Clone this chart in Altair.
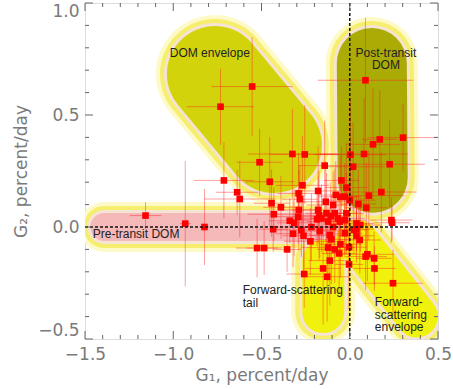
import altair as alt
import pandas as pd

# ---------------- data ----------------
g1 = [-1.157, -0.932, -0.823, -0.553, -0.732, -0.511, -0.713, -0.638, -0.623, -0.525,
      -0.485, -0.453, -0.443, -0.430, -0.434, -0.390, -0.355, -0.325, -0.255, -0.142,
      -0.268, -0.290, -0.283, -0.179, -0.136, -0.047, -0.019, 0.004, 0.019, 0.000,
      -0.079, -0.053, -0.028, 0.089, 0.170, 0.132, 0.302, 0.081, 0.226, 0.108,
      0.179, 0.049, 0.094, 0.236, 0.240, 0.038, 0.023, 0.038, 0.057, 0.100,
      0.090, 0.138, 0.140, 0.245, -0.004, -0.004, -0.053, -0.060, -0.113, -0.151,
      -0.128, -0.258, -0.123, -0.085, -0.104, -0.113, -0.223, -0.262, -0.321, -0.274,
      -0.217, -0.340, -0.315, -0.292, -0.289, -0.179, -0.174, -0.185, -0.160, -0.132,
      -0.108, -0.085, -0.066, -0.057, -0.123, -0.094, -0.028, -0.094, -0.019, -0.170,
      -0.028, 0.038, 0.060]
g2 = [0.051, 0.015, 0.000, 0.627, 0.537, 0.289, 0.208, 0.155, 0.125, -0.094,
      -0.094, 0.202, 0.106, 0.057, -0.010, 0.088, -0.100, 0.326, 0.324, 0.274,
      0.186, 0.150, 0.124, 0.161, 0.113, 0.208, 0.176, 0.323, 0.269, 0.120,
      0.143, 0.135, 0.135, 0.655, 0.391, 0.369, 0.399, 0.326, 0.280, 0.140,
      0.156, 0.103, 0.086, 0.031, 0.019, 0.016, -0.013, -0.039, -0.058, -0.122,
      -0.132, -0.140, -0.185, -0.251, -0.090, -0.167, -0.077, -0.118, -0.150, -0.185,
      -0.222, -0.210, -0.092, -0.100, -0.055, -0.036, -0.064, -0.039, -0.030, -0.013,
      0.000, 0.028, 0.019, 0.046, 0.076, 0.076, 0.051, 0.034, 0.039, 0.061,
      0.049, 0.061, 0.039, 0.024, 0.024, 0.000, 0.031, 0.098, 0.061, -0.018,
      -0.028, -0.010, 0.009]
g1_err = [0.09, 0.03, 0.03, 0.23, 0.19, 0.13, 0.17, 0.12, 0.20, 0.12,
          0.10, 0.14, 0.10, 0.15, 0.08, 0.10, 0.08, 0.25, 0.20, 0.15,
          0.15, 0.12, 0.10, 0.12, 0.15, 0.10, 0.12, 0.20, 0.18, 0.15,
          0.10, 0.12, 0.08, 0.27, 0.10, 0.15, 0.20, 0.25, 0.20, 0.20,
          0.20, 0.10, 0.12, 0.12, 0.10, 0.10, 0.08, 0.10, 0.12, 0.15,
          0.12, 0.10, 0.12, 0.17, 0.10, 0.08, 0.12, 0.10, 0.12, 0.10,
          0.12, 0.10, 0.15, 0.10, 0.15, 0.12, 0.15, 0.12, 0.10, 0.15,
          0.20, 0.12, 0.10, 0.15, 0.12, 0.15, 0.12, 0.10, 0.15, 0.12,
          0.10, 0.12, 0.15, 0.10, 0.12, 0.10, 0.12, 0.15, 0.10, 0.12,
          0.10, 0.10, 0.12]
g2_err = [0.06, 0.28, 0.17, 0.22, 0.17, 0.15, 0.17, 0.10, 0.17, 0.13,
          0.12, 0.20, 0.15, 0.12, 0.10, 0.14, 0.10, 0.20, 0.22, 0.20,
          0.22, 0.18, 0.15, 0.20, 0.18, 0.15, 0.20, 0.25, 0.20, 0.25,
          0.15, 0.18, 0.15, 0.28, 0.22, 0.25, 0.15, 0.25, 0.20, 0.20,
          0.18, 0.15, 0.20, 0.10, 0.08, 0.12, 0.10, 0.12, 0.15, 0.12,
          0.15, 0.12, 0.10, 0.15, 0.15, 0.20, 0.15, 0.18, 0.20, 0.25,
          0.20, 0.15, 0.15, 0.15, 0.20, 0.12, 0.15, 0.18, 0.15, 0.12,
          0.15, 0.10, 0.15, 0.12, 0.18, 0.15, 0.20, 0.12, 0.15, 0.18,
          0.15, 0.20, 0.12, 0.15, 0.10, 0.12, 0.15, 0.15, 0.18, 0.12,
          0.10, 0.10, 0.12]

# Regions (capsules): end-point centres in data units
region_names = ["Pre-transit DOM", "Forward-scattering tail", "Forward-scattering envelope",
                "DOM envelope", "Post-transit DOM"]
region_x1 = [-1.39, -0.15, 0.04, -0.764, 0.125]
region_y1 = [0.0, -0.15, -0.06, 0.683, 0.732]
region_x2 = [-0.20, -0.15, 0.38, -0.43, 0.13]
region_y2 = [0.0, -0.38, -0.40, 0.366, 0.22]

x_tick_labels = [-1.5, -1.0, -0.5, 0.0, 0.5]
y_tick_labels = [-0.5, 0.0, 0.5, 1.0]
x_minor = [-1.4, -1.3, -1.2, -1.1, -0.9, -0.8, -0.7, -0.6, -0.4, -0.3, -0.2, -0.1,
           0.1, 0.2, 0.3, 0.4]
y_minor = [-0.4, -0.3, -0.2, -0.1, 0.1, 0.2, 0.3, 0.4, 0.6, 0.7, 0.8, 0.9]

# ---------------- styles ----------------
W, H = 353, 336
XD, YD = [-1.5, 0.5], [-0.5, 1.0]
region_radius_px = [14, 21, 21, 48, 35]
region_fill = ["#f5b9b9", "#f1f10e", "#f1f10e", "#d3d30b", "#abab06"]
GRAY = "#7a7a7a"

xs = alt.Scale(domain=XD, nice=False, zero=False)
ys = alt.Scale(domain=YD, nice=False, zero=False)

x_axis = alt.Axis(values=x_tick_labels, format=".1f", labelFontSize=17, labelColor=GRAY,
                  labelFont="DejaVu Sans", ticks=False, tickSize=0, domain=False, grid=False,
                  labelPadding=7, labelFlush=False, labelOverlap=False, labelBound=False,
                  title="G₁, percent/day", titleFontSize=17, titleColor=GRAY,
                  titleFont="DejaVu Sans", titleFontWeight="normal", titlePadding=5)
y_axis = alt.Axis(values=y_tick_labels, format=".1f", labelFontSize=17, labelColor=GRAY,
                  labelFont="DejaVu Sans", ticks=False, tickSize=0, domain=False, grid=False,
                  labelPadding=6, labelFlush=True, labelOverlap=False, labelBound=False,
                  title="G₂, percent/day", titleFontSize=17, titleColor=GRAY,
                  titleFont="DejaVu Sans", titleFontWeight="normal", titlePadding=7)

pts = pd.DataFrame({"g1": g1, "g2": g2, "ex": g1_err, "ey": g2_err})
pts["x_lo"] = pts.g1 - pts.ex
pts["x_hi"] = pts.g1 + pts.ex
pts["y_lo"] = pts.g2 - pts.ey
pts["y_hi"] = pts.g2 + pts.ey

rows = []
for n, a, b, c, d in zip(region_names, region_x1, region_y1, region_x2, region_y2):
    rows.append({"name": n, "x": a, "y": b})
    rows.append({"name": n, "x": c, "y": d})
caps = pd.DataFrame(rows)
one = pd.DataFrame({"k": [0]})

layers = []
base_cap = alt.Chart(caps)
levels = [(22, None, "#fdfac8"), (14, None, "#f6ee6c"), (6, None, "#f5e3d3"), (0, "fill", None)]
for extra, kind, col in levels:
    for i, n in enumerate(region_names):
        color = region_fill[i] if kind == "fill" else col
        layers.append(
            base_cap.transform_filter(alt.datum.name == n)
            .mark_line(strokeCap="round", strokeWidth=2 * region_radius_px[i] + extra,
                       color=color, clip=True)
            .encode(x=alt.X("x:Q", scale=xs, axis=x_axis), y=alt.Y("y:Q", scale=ys, axis=y_axis))
        )

base = alt.Chart(pts)
err_style = dict(color="#ff1a1a", opacity=0.42, strokeWidth=1, clip=True)
layers.append(base.mark_rule(**err_style).encode(x="x_lo:Q", x2="x_hi:Q", y="g2:Q"))
layers.append(base.mark_rule(**err_style).encode(x="g1:Q", y="y_lo:Q", y2="y_hi:Q"))
layers.append(base.mark_square(size=44, color="#ff0000", opacity=1).encode(x="g1:Q", y="g2:Q"))

dash = dict(color="#111", strokeWidth=1.5, strokeDash=[3, 2])
layers.append(alt.Chart(one).mark_rule(**dash).encode(x=alt.datum(0.0)))
layers.append(alt.Chart(one).mark_rule(**dash).encode(y=alt.datum(0.0)))

# frame ticks (inward) via scales
MX, mx = 8 / H * (YD[1] - YD[0]), 4 / H * (YD[1] - YD[0])
MY, my = 8 / W * (XD[1] - XD[0]), 4 / W * (XD[1] - XD[0])
xt = []
for v in x_tick_labels + x_minor:
    L = MX if v in x_tick_labels else mx
    xt.append({"v": v, "a": YD[0], "b": YD[0] + L})
    xt.append({"v": v, "a": YD[1], "b": YD[1] - L})
yt = []
for v in y_tick_labels + y_minor:
    L = MY if v in y_tick_labels else my
    yt.append({"v": v, "a": XD[0], "b": XD[0] + L})
    yt.append({"v": v, "a": XD[1], "b": XD[1] - L})
tick_style = dict(color="#666", strokeWidth=1)
layers.append(alt.Chart(pd.DataFrame(xt)).mark_rule(**tick_style).encode(x="v:Q", y="a:Q", y2="b:Q"))
layers.append(alt.Chart(pd.DataFrame(yt)).mark_rule(**tick_style).encode(y="v:Q", x="a:Q", x2="b:Q"))

txt = dict(fontSize=12, font="Liberation Sans", color="#222222", lineHeight=12.5)
layers.append(alt.Chart(one).mark_text(text="DOM envelope", align="center", baseline="middle", **txt)
              .encode(x=alt.datum(-0.793), y=alt.datum(0.777)))
layers.append(alt.Chart(one).mark_text(text=["Post-transit", "DOM"], align="center", baseline="top", **txt)
              .encode(x=alt.datum(0.205), y=alt.datum(0.80)))
layers.append(alt.Chart(one).mark_text(text="Pre-transit DOM", align="left", baseline="middle", **txt)
              .encode(x=alt.datum(-1.456), y=alt.datum(-0.031)))
layers.append(alt.Chart(one).mark_text(text=["Forward-scattering", "tail"], align="left", baseline="top", **txt)
              .encode(x=alt.datum(-0.606), y=alt.datum(-0.259)))
layers.append(alt.Chart(one).mark_text(text=["Forward-", "scattering", "envelope"], align="left", baseline="top", **txt)
              .encode(x=alt.datum(0.142), y=alt.datum(-0.3125)))

chart = alt.layer(*layers).properties(
    width=W, height=H,
    autosize=alt.AutoSizeParams(type="none"),
    padding={"left": 85, "top": 3, "right": 15, "bottom": 50},
).configure_view(stroke="#808080", strokeWidth=1.5).configure(background="white")

chart.save("out.html", embed_options={"renderer": "svg", "actions": False})
